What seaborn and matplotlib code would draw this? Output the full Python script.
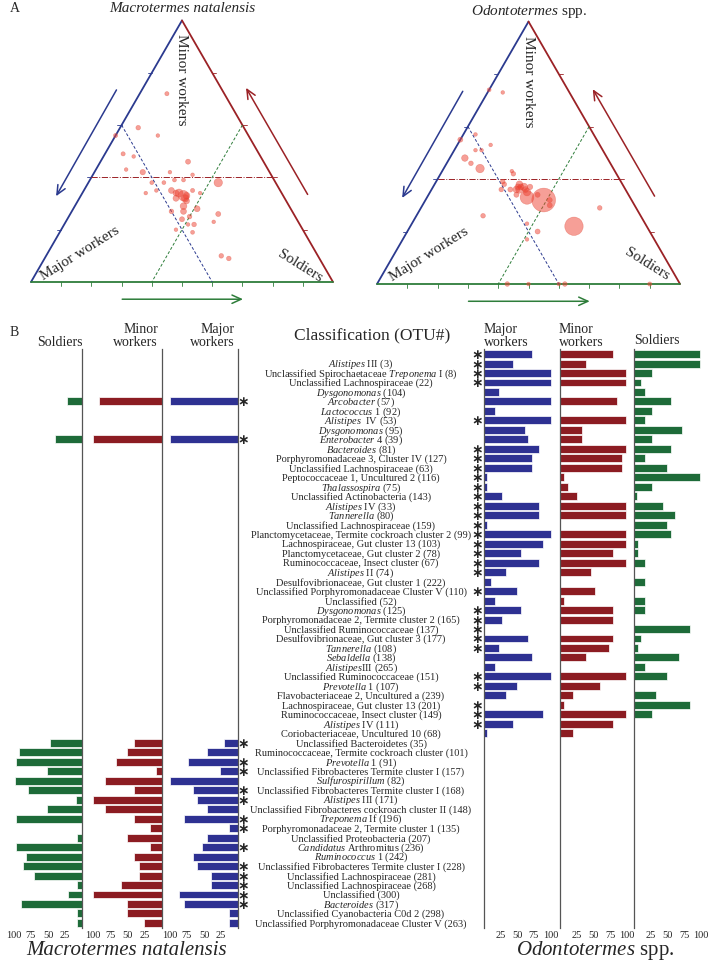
import numpy as np
import pandas as pd
import matplotlib
matplotlib.use('Agg')
import matplotlib.pyplot as plt
import seaborn as sns

sns.set_theme(style='white')
plt.rcParams['font.family'] = ['Liberation Serif', 'DejaVu Serif']
plt.rcParams['mathtext.fontset'] = 'custom'
plt.rcParams['mathtext.rm'] = 'Liberation Serif'
plt.rcParams['mathtext.it'] = 'Liberation Serif:italic'

nan = np.nan

# ---------------- Panel B data ----------------
labels = [
    '',
    r'$\mathit{Alistipes}$ III (3)',
    r'Unclassified Spirochaetaceae $\mathit{Treponema}$ I (8)',
    'Unclassified Lachnospiraceae (22)',
    r'$\mathit{Dysgonomonas}$ (104)',
    r'$\mathit{Arcobacter}$ (57)',
    r'$\mathit{Lactococcus}$ 1 (92)',
    r'$\mathit{Alistipes}$  IV (53)',
    r'$\mathit{Dysgonomonas}$ (95)',
    r'$\mathit{Enterobacter}$ 4 (39)',
    r'$\mathit{Bacteroides}$ (81)',
    'Porphyromonadaceae 3, Cluster IV (127)',
    'Unclassified Lachnospiraceae (63)',
    'Peptococcaceae 1, Uncultured 2 (116)',
    r'$\mathit{Thalassospira}$ (75)',
    'Unclassified Actinobacteria (143)',
    r'$\mathit{Alistipes}$ IV (33)',
    r'$\mathit{Tannerella}$ (80)',
    'Unclassified Lachnospiraceae (159)',
    'Planctomycetaceae, Termite cockroach cluster 2 (99)',
    'Lachnospiraceae, Gut cluster 13 (103)',
    'Planctomycetaceae, Gut cluster 2 (78)',
    'Ruminococcaceae, Insect cluster (67)',
    r'$\mathit{Alistipes}$ II (74)',
    'Desulfovibrionaceae, Gut cluster 1 (222)',
    'Unclassified Porphyromonadaceae Cluster V (110)',
    'Unclassified (52)',
    r'$\mathit{Dysgonomonas}$ (125)',
    'Porphyromonadaceae 2, Termite cluster 2 (165)',
    'Unclassified Ruminococcaceae (137)',
    'Desulfovibrionaceae, Gut cluster 3 (177)',
    r'$\mathit{Tannerella}$ (108)',
    r'$\mathit{Sebaldella}$ (138)',
    r'$\mathit{Alistipes}$III (265)',
    'Unclassified Ruminococcaceae (151)',
    r'$\mathit{Prevotella}$ 1 (107)',
    'Flavobacteriaceae 2, Uncultured a (239)',
    'Lachnospiraceae, Gut cluster 13 (201)',
    'Ruminococcaceae, Insect cluster (149)',
    r'$\mathit{Alistipes}$ IV (111)',
    'Coriobacteriaceae, Uncultured 10 (68)',
    'Unclassified Bacteroidetes (35)',
    'Ruminococcaceae, Termite cockroach cluster (101)',
    r'$\mathit{Prevotella}$ 1 (91)',
    'Unclassified Fibrobacteres Termite cluster I (157)',
    r'$\mathit{Sulfurospirillum}$ (82)',
    'Unclassified Fibrobacteres Termite cluster I (168)',
    r'$\mathit{Alistipes}$ III (171)',
    'Unclassified Fibrobacteres cockroach cluster II (148)',
    r'$\mathit{Treponema}$ If (196)',
    'Porphyromonadaceae 2, Termite cluster 1 (135)',
    'Unclassified Proteobacteria (207)',
    r'$\mathit{Candidatus}$ Arthromitus (236)',
    r'$\mathit{Ruminococcus}$ 1 (242)',
    'Unclassified Fibrobacteres Termite cluster I (228)',
    'Unclassified Lachnospiraceae (281)',
    'Unclassified Lachnospiraceae (268)',
    'Unclassified (300)',
    r'$\mathit{Bacteroides}$ (317)',
    'Unclassified Cyanobacteria C0d 2 (298)',
    'Unclassified Porphyromonadaceae Cluster V (263)',
]

# Macrotermes natalensis (left), % values; rows without a bar are nan
macro_soldiers = ([nan] * 5 + [22] + [nan] * 3 + [39] + [nan] * 31 +
                  [47, 93, 97, 52, 99, 79, 9, 52, 97, nan,
                   7, 97, 83, 87, 70, 7, 21, 89, 7, 7])
macro_minor = ([nan] * 5 + [91] + [nan] * 3 + [100] + [nan] * 31 +
               [41, 50, 67, 8, 83, 41, 100, 83, 41, 17,
                50, 17, 41, 34, 34, 59, 100, 50, 50, 26])
macro_major = ([nan] * 5 + [100] + [nan] * 3 + [100] + [nan] * 31 +
               [20, 46, 73, 26, 100, 66, 60, 46, 80, 13,
                46, 53, 66, 60, 40, 40, 87, 80, 13, 13])
macro_stars = [5, 9, 41, 43, 44, 46, 47, 49, 50, 52, 54, 55, 56, 57, 58]

# Odontotermes spp. (right)
odo_major = ([72.5, 44, 100, 100, 22, 100, 16.5, 100, 61.5, 66.5,
              83, 72.5, 72.5, 5, 5, 27.5, 83, 83, 5, 100,
              89, 55.5, 83, 33, 10.5, 50, 16.5, 55.5, 27.5, nan,
              66.5, 22, 72.5, 16.5, 100, 50, 33, nan, 89, 44, 5] + [nan] * 20)
odo_minor = ([79, 39, 99, 99, nan, 85, nan, 99, 32.5, 32.5,
              99, 92.5, 92.5, 6, 12.5, 26, 99, 99, nan, 99,
              99, 79, 99, 46, nan, 52.5, 6, 79, 79, nan,
              79, 72.5, 39, nan, 99, 59, 19, 6, 99, 79, 19] + [nan] * 20)
odo_soldiers = ([98.5, 98.5, 27.5, 11, 17, 55, 27.5, 17, 72, 27.5,
                 55, 17, 50, 98.5, 27.5, 5, 43.5, 61, 50, 55,
                 6, 6, 17, nan, 17, nan, 17, 17, nan, 83.5,
                 11, 6, 67, 17, 50, nan, 32.5, 83.5, 27.5, nan, nan] + [nan] * 20)
odo_stars = [0, 1, 2, 3, 7, 10, 11, 12, 13, 14, 15, 16, 17, 18, 19, 20, 21,
             22, 23, 25, 27, 28, 29, 30, 31, 34, 35, 37, 38, 39]

left_ticks = [100, 75, 50, 25]
right_ticks = [25, 50, 75, 100]

# ---------------- Panel A data (ternary, %) ----------------
macro_t_major = [19, 35, 30, 44, 45, 42, 47, 42, 25, 33, 26, 19, 41, 37, 33, 30, 36, 33, 36, 33,
                 35, 36, 31, 40, 29, 27, 45, 41, 25, 35, 38, 28, 35, 37, 37, 42, 32, 30,
                 34, 33, 35, 32]
macro_t_minor = [72, 59, 56, 56, 49, 48, 43, 42, 46, 42, 41, 38, 38, 38, 39, 39, 35, 33, 32, 31,
                 29, 27, 28, 27, 35, 34, 34, 35, 26, 25, 24, 23, 22, 22, 19, 20, 10, 9,
                 34, 32, 34, 33]
macro_t_soldier = [9, 6, 14, 0, 6, 10, 10, 16, 29, 25, 33, 43, 21, 25, 28, 31, 29, 34, 32, 36,
                   36, 37, 41, 33, 36, 39, 21, 24, 49, 40, 38, 49, 43, 41, 44, 38, 58, 61,
                   32, 35, 31, 35]
macro_t_size = [6, 8, 4, 6, 6, 4, 4, 12, 10, 4, 4, 33, 5, 5, 5, 5, 15, 52, 15, 15,
                20, 15, 15, 8, 6, 4, 4, 4, 10, 8, 10, 4, 8, 4, 5, 4, 8, 8,
                30, 25, 15, 20]

odo_t_major = [22, 26, 45, 39, 36, 42, 40, 47, 46, 44, 34, 34, 39, 39, 41, 38, 34, 35, 33, 31,
               33, 34, 29, 27, 28, 24, 12, 52, 39, 37, 42, 57, 50, 40, 38, 10, 30, 37,
               36, 34, 35, 33]
odo_t_minor = [73, 74, 55, 57, 53, 51, 51, 48, 46, 44, 43, 42, 39, 38, 36, 36, 38, 36, 37, 37,
               35, 33, 32, 32, 30, 22, 29, 26, 23, 20, 17, 0, 0, 0, 0, 0, 34, 34,
               36, 37, 37, 36]
odo_t_soldier = [5, 0, 0, 4, 11, 7, 9, 5, 8, 12, 23, 24, 22, 23, 23, 26, 28, 29, 30, 32,
                 32, 33, 39, 41, 42, 54, 59, 22, 38, 43, 41, 43, 50, 60, 62, 90, 36, 29,
                 28, 29, 28, 31]
odo_t_size = [4, 5, 10, 4, 4, 4, 4, 19, 8, 33, 4, 8, 8, 8, 8, 10, 20, 25, 25, 12,
              25, 92, 283, 10, 10, 168, 8, 8, 4, 10, 4, 8, 4, 4, 8, 6, 10, 10,
              20, 15, 15, 15]

GUIDE = 0.4
BASE_TICKS = [0.1, 0.2, 0.3, 0.4, 0.5, 0.6, 0.7, 0.8, 0.9]
SIDE_TICKS = [0.2, 0.4, 0.6, 0.8]

BLUE = '#2e3192'
RED = '#8c1c22'
GREEN = '#1e6b39'
TBLUE = '#2b3a8f'
TRED = '#9b2226'
TGREEN = '#2e7d3a'
BUBBLE = '#ee4030'

W, H = 709, 962
fig = plt.figure(figsize=(W / 100, H / 100), dpi=100)


def px_axes(x0, y0, x1, y1):
    ax = fig.add_axes([x0 / W, 1 - y1 / H, (x1 - x0) / W, (y1 - y0) / H])
    ax.set_facecolor('none')
    return ax


def ftext(x, y, s, **kw):
    fig.text(x / W, 1 - y / H, s, **kw)


def tern_xy(major, minor, soldier):
    major = np.asarray(major, float)
    minor = np.asarray(minor, float)
    soldier = np.asarray(soldier, float)
    tot = major + minor + soldier
    return (soldier + 0.5 * minor) / tot, (np.sqrt(3) / 2) * minor / tot


def ternary(box, xlim, major, minor, soldier, size, lab_pos):
    ax = px_axes(*box)
    ax.set_xlim(*xlim)
    ax.set_ylim(-0.1, 0.9)
    ax.axis('off')
    h = np.sqrt(3) / 2
    ax.plot([0, 0.5], [0, h], color=TBLUE, lw=1.3)
    ax.plot([0.5, 1], [h, 0], color=TRED, lw=1.3)
    ax.plot([0, 1], [0, 0], color=TGREEN, lw=1.3)
    for f in BASE_TICKS:
        ax.plot([f, f], [0.0, -0.012], color=TGREEN, lw=0.6)
    for f in SIDE_TICKS:
        y = h * f
        ax.plot([0.5 * f - 0.014, 0.5 * f], [y, y], color=TBLUE, lw=0.6)
        ax.plot([1 - 0.5 * f, 1 - 0.5 * f + 0.014], [y, y], color=TRED, lw=0.6)
    g = GUIDE
    x, y = tern_xy([1 - g, 0], [g, g], [0, 1 - g])
    ax.plot(x, y, color=TRED, lw=0.7, ls='-.')
    x, y = tern_xy([g, g], [1 - g, 0], [0, 1 - g])
    ax.plot(x, y, color=TBLUE, lw=0.7, ls=(0, (3, 2)))
    x, y = tern_xy([0, 1 - g], [1 - g, 0], [g, g])
    ax.plot(x, y, color=TGREEN, lw=0.7, ls=(0, (3, 2)))

    px, py = tern_xy(major, minor, soldier)
    df = pd.DataFrame({'x': px, 'y': py, 's': size})
    sns.scatterplot(data=df, x='x', y='y', size='s', sizes=(6, 310), size_norm=(3, 300),
                    color=BUBBLE, alpha=0.5, edgecolor='#e05040', linewidth=0.4,
                    legend=False, ax=ax, clip_on=False, zorder=3)
    ax.set_xlabel('')
    ax.set_ylabel('')

    ap = dict(arrowstyle='->,head_length=0.55,head_width=0.25', lw=1.1, shrinkA=0, shrinkB=0)
    ax.annotate('', xy=(0.083, 0.284), xytext=(0.283, 0.636),
                arrowprops=dict(color=TBLUE, **ap), annotation_clip=False)
    ax.annotate('', xy=(0.712, 0.643), xytext=(0.916, 0.29),
                arrowprops=dict(color=TRED, **ap), annotation_clip=False)
    ax.annotate('', xy=(0.702, -0.057), xytext=(0.302, -0.057),
                arrowprops=dict(color=TGREEN, **ap), annotation_clip=False)

    ax.text(0.5, 0.672, 'Minor workers', rotation=270, ha='center', va='center', fontsize=11)
    ax.text(lab_pos[0][0], lab_pos[0][1], 'Major workers', rotation=32, ha='center', va='center',
            fontsize=11, rotation_mode='anchor')
    ax.text(lab_pos[1][0], lab_pos[1][1], 'Soldiers', rotation=-32, ha='center', va='center',
            fontsize=11, rotation_mode='anchor')
    return ax


# Panel A
ternary((0.8, 11.2, 363.2, 313.2), (-0.1, 1.1), macro_t_major, macro_t_minor, macro_t_soldier,
        macro_t_size, [(0.162, 0.099), (0.89, 0.055)])
ternary((346.7, 12.3, 707.3, 315.3), (-0.1, 1.09), odo_t_major, odo_t_minor, odo_t_soldier,
        odo_t_size, [(0.172, 0.099), (0.891, 0.07)])
ftext(10, 9, 'A', fontsize=10, ha='left', va='center')
ftext(182, 9, 'Macrotermes natalensis', fontsize=11, style='italic', ha='center', va='center')
ftext(529, 11, r'$\mathit{Odontotermes}$ spp.', fontsize=11, ha='center', va='center')

# Panel B
TOP, BOT = 350.3, 928.7
panels = [
    ((10, 82), macro_soldiers, GREEN, (105.9, 0), left_ticks, 'right'),
    ((88, 162), macro_minor, RED, (107.2, 0), left_ticks, 'right'),
    ((166, 238), macro_major, BLUE, (105.9, 0), left_ticks, 'right'),
    ((484, 556), odo_major, BLUE, (0, 108), right_ticks, 'left'),
    ((560, 630), odo_minor, RED, (0, 104.5), right_ticks, 'left'),
    ((634, 706), odo_soldiers, GREEN, (0, 107.5), right_ticks, 'left'),
]
for (x0, x1), vals, col, xlim, ticks, spine in panels:
    ax = px_axes(x0, TOP, x1, BOT)
    df = pd.DataFrame({'row': labels, 'val': vals})
    sns.barplot(data=df, x='val', y='row', order=labels, orient='h', color=col,
                saturation=1, width=0.84, edgecolor='white', linewidth=0.5,
                errorbar=None, ax=ax)
    ax.set_xlim(*xlim)
    ax.set_ylim(len(labels) - 0.5, -0.5)
    ax.set_xticks(ticks)
    ax.set_xticklabels([str(t) for t in ticks])
    ax.set_yticks([])
    ax.set_xlabel('')
    ax.set_ylabel('')
    ax.tick_params(axis='x', length=0, pad=1.5, labelsize=7.5)
    for s in ['top', 'bottom', 'left', 'right']:
        ax.spines[s].set_visible(s == spine)
    ax.spines[spine].set_color('#555555')
    ax.spines[spine].set_linewidth(0.9)

lab_ax = px_axes(238, TOP, 486, BOT)
lab_ax.set_xlim(238, 486)
lab_ax.set_ylim(len(labels) - 0.5, -0.5)
lab_ax.axis('off')
for i, lab in enumerate(labels):
    if lab:
        lab_ax.text(361, i, lab, ha='center', va='center', fontsize=7.5)
for i in macro_stars:
    lab_ax.text(243.5, i, '\u2217', ha='center', va='center', fontsize=10,
                family='DejaVu Sans', weight='bold')
for i in odo_stars:
    lab_ax.text(477, i, '\u2217', ha='center', va='center', fontsize=10,
                family='DejaVu Sans', weight='bold')

ftext(10, 333, 'B', fontsize=10, ha='left', va='center')
ftext(83, 342, 'Soldiers', fontsize=10, ha='right', va='center')
ftext(158, 330, 'Minor', fontsize=10, ha='right', va='center')
ftext(158, 342, 'workers', fontsize=10, ha='right', va='center')
ftext(235, 330, 'Major', fontsize=10, ha='right', va='center')
ftext(235, 342, 'workers', fontsize=10, ha='right', va='center')
ftext(372, 335, 'Classification (OTU#)', fontsize=12.5, ha='center', va='center')
ftext(484, 330, 'Major', fontsize=10, ha='left', va='center')
ftext(484, 342, 'workers', fontsize=10, ha='left', va='center')
ftext(559, 330, 'Minor', fontsize=10, ha='left', va='center')
ftext(559, 342, 'workers', fontsize=10, ha='left', va='center')
ftext(634, 340, 'Soldiers', fontsize=10, ha='left', va='center')
ftext(127, 951, 'Macrotermes natalensis', fontsize=15, style='italic', ha='center', va='center')
ftext(595, 951, r'$\mathit{Odontotermes}$ spp.', fontsize=15, ha='center', va='center')

fig.savefig('out.png', dpi=100)
